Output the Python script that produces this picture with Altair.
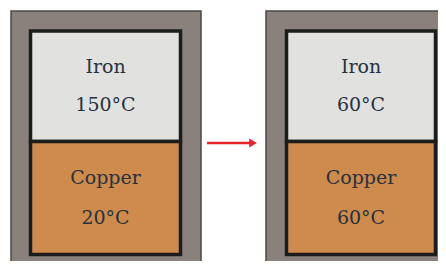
import altair as alt
import pandas as pd

# ---- content ----
states = ["before", "after"]
materials = ["Iron", "Copper"]
temps_before = ["150°C", "20°C"]
temps_after = ["60°C", "60°C"]

# ---- layout (page pixel units) ----
panel_outer_x = {"before": (11, 201), "after": (266, 470)}
panel_inner_x = {"before": (30.5, 180.5), "after": (286.5, 435.5)}
outer_top, outer_bottom = 11, 290
inner_y = {"Iron": (31, 141.5), "Copper": (141.5, 254.5)}
label_y = {"Iron": (67, 105), "Copper": (178, 218)}
fills = {"Iron": "#e1e1df", "Copper": "#ce8b4b"}

outer_rows, inner_rows, text_rows = [], [], []
for s, temps in zip(states, [temps_before, temps_after]):
    ox0, ox1 = panel_outer_x[s]
    outer_rows.append({"x": ox0, "x2": ox1, "y": outer_top, "y2": outer_bottom})
    ix0, ix1 = panel_inner_x[s]
    cx = (ix0 + ix1) / 2
    for m, t in zip(materials, temps):
        y0, y1 = inner_y[m]
        inner_rows.append({"x": ix0, "x2": ix1, "y": y0, "y2": y1, "mat": m})
        ly1, ly2 = label_y[m]
        text_rows.append({"x": cx, "y": ly1, "t": m})
        text_rows.append({"x": cx, "y": ly2, "t": t})

W, H = 430, 253
xs = alt.Scale(domain=[8, 8 + W], nice=False, zero=False)
ys = alt.Scale(domain=[8, 8 + H], nice=False, zero=False, reverse=True)
X = lambda f="x": alt.X(f"{f}:Q", scale=xs, axis=None)
Y = lambda f="y": alt.Y(f"{f}:Q", scale=ys, axis=None)

outer = alt.Chart(pd.DataFrame(outer_rows)).mark_rect(
    fill="#8a807c", stroke="#4a4a4a", strokeWidth=1.5, clip=True
).encode(x=X(), x2="x2:Q", y=Y(), y2="y2:Q")

inner = alt.Chart(pd.DataFrame(inner_rows)).mark_rect(
    stroke="#1c1c1c", strokeWidth=3.5
).encode(
    x=X(), x2="x2:Q", y=Y(), y2="y2:Q",
    fill=alt.Fill("mat:N", scale=alt.Scale(domain=list(fills), range=list(fills.values())), legend=None),
)

text = alt.Chart(pd.DataFrame(text_rows)).mark_text(
    font="DejaVu Serif", fontSize=19, color="#26323f",
    baseline="middle", align="center"
).encode(x=X(), y=Y(), text="t:N")

arrow_df = pd.DataFrame([{"x": 207, "x2": 251, "y": 143}])
arrow_line = alt.Chart(arrow_df).mark_rule(color="#e5232b", strokeWidth=2.5).encode(
    x=X(), x2="x2:Q", y=Y()
)
arrow_head = alt.Chart(pd.DataFrame([{"x": 253, "y": 143}])).mark_point(
    shape="triangle-right", filled=True, color="#e5232b", size=80, opacity=1
).encode(x=X(), y=Y())

chart = alt.layer(outer, inner, text, arrow_line, arrow_head).properties(
    width=W, height=H, padding=0, autosize=alt.AutoSizeParams(type="none")
).configure_view(stroke=None)

chart.save("out.html", embed_options={"renderer": "svg", "actions": False})
